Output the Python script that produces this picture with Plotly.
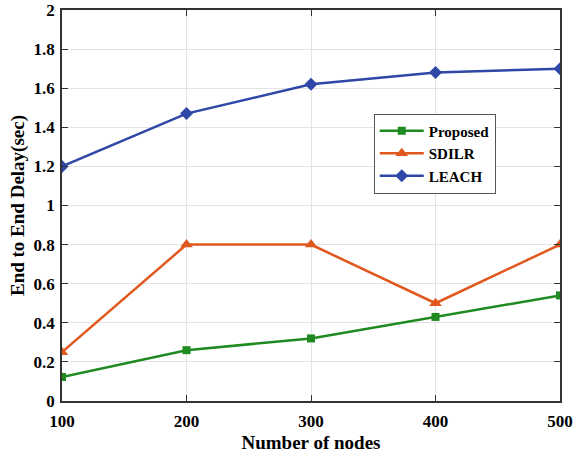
import plotly.graph_objects as go

nodes = [100, 200, 300, 400, 500]
proposed = [0.123, 0.26, 0.32, 0.43, 0.54]
sdilr = [0.25, 0.80, 0.80, 0.50, 0.80]
leach = [1.20, 1.47, 1.62, 1.68, 1.70]
y_ticks = [0, 0.2, 0.4, 0.6, 0.8, 1, 1.2, 1.4, 1.6, 1.8, 2]
y_tick_text = ["0", "0.2", "0.4", "0.6", "0.8", "1", "1.2", "1.4", "1.6", "1.8", "2"]

font_family = "Liberation Serif, Times New Roman, serif"

fig = go.Figure()
fig.add_trace(go.Scatter(x=nodes, y=proposed, name="Proposed", mode="lines+markers",
                         line=dict(color="#1f8a1f", width=2.5),
                         marker=dict(symbol="square", size=8, color="#1f8a1f")))
fig.add_trace(go.Scatter(x=nodes, y=sdilr, name="SDILR", mode="lines+markers",
                         line=dict(color="#e0581e", width=2.5),
                         marker=dict(symbol="triangle-up", size=11, color="#e0581e")))
fig.add_trace(go.Scatter(x=nodes, y=leach, name="LEACH", mode="lines+markers",
                         line=dict(color="#2f47a6", width=2.5),
                         marker=dict(symbol="diamond", size=10, color="#2f47a6")))

axis_common = dict(showline=True, linecolor="#333", linewidth=1.5, mirror="ticks",
                   ticks="inside", ticklen=6, tickcolor="#333", automargin=False,
                   showgrid=True, gridcolor="#e3e3e3", gridwidth=1, zeroline=False,
                   tickfont=dict(family=font_family, size=17, color="black", weight="bold"))

fig.update_xaxes(range=[100, 500], tickvals=nodes, ticklabelstandoff=4,
                 title=dict(text="Number of nodes", font=dict(family=font_family, size=19, color="black", weight="bold"), standoff=6),
                 **axis_common)
fig.update_yaxes(range=[0, 2], tickvals=y_ticks, ticktext=y_tick_text, ticklabelstandoff=2,
                 title=dict(text="End to End Delay(sec)", font=dict(family=font_family, size=19, color="black", weight="bold"), standoff=4),
                 **axis_common)

fig.update_layout(
    width=578, height=457,
    margin=dict(l=62, r=18, t=10, b=56),
    plot_bgcolor="white", paper_bgcolor="white",
    showlegend=True,
    legend=dict(x=0.626, y=0.735, xanchor="left", yanchor="top",
                bgcolor="white", bordercolor="#555", borderwidth=1,
                font=dict(family=font_family, size=15, color="black", weight="bold"),
                tracegroupgap=0, itemwidth=44),
)

fig.write_html("out.html", config={"displayModeBar": False},
               post_script="document.body.style.margin='0px';")
